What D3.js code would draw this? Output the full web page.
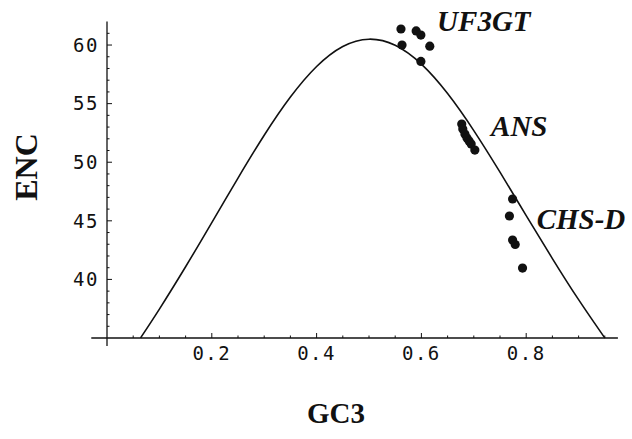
<!DOCTYPE html>
<html>
<head>
<meta charset="utf-8">
<script src="https://cdn.jsdelivr.net/npm/d3@7"></script>
<style>
  html, body { margin: 0; padding: 0; background: #fff; }
  svg { display: block; }
</style>
</head>
<body>
<svg id="chart" width="632" height="439"></svg>
<script>
// Expected ENC curve (GC3 vs ENC)
const curveGC3 = [0.064, 0.1, 0.15, 0.2, 0.25, 0.3, 0.35, 0.4, 0.45, 0.5, 0.55, 0.6, 0.65, 0.7, 0.75, 0.8, 0.85, 0.9, 0.95];
const curveENC = [35.01, 37.47, 41.08, 44.85, 48.65, 52.3, 55.56, 58.17, 59.88, 60.5, 59.98, 58.37, 55.86, 52.7, 49.15, 45.45, 41.78, 38.27, 35.0];

// Gene groups
const groups = ["UF3GT", "ANS", "CHS-D"];
const uf3gtGC3 = [0.561, 0.563, 0.590, 0.599, 0.616, 0.599];
const uf3gtENC = [61.37, 60.0, 61.2, 60.85, 59.9, 58.6];
const ansGC3 = [0.677, 0.679, 0.683, 0.687, 0.691, 0.695, 0.702];
const ansENC = [53.26, 52.83, 52.41, 52.06, 51.81, 51.55, 51.04];
const chsGC3 = [0.774, 0.768, 0.774, 0.779, 0.793];
const chsENC = [46.86, 45.41, 43.36, 42.98, 40.97];

const xTicks = [0.2, 0.4, 0.6, 0.8];
const yTicks = [40, 45, 50, 55, 60];
const xLabel = "GC3";
const yLabel = "ENC";

const svg = d3.select("#chart");
const x = d3.scaleLinear().domain([0, 1]).range([107, 631]);
const y = d3.scaleLinear().domain([35, 62]).range([338, 21.6]);

const ink = "#111";

// axes lines
svg.append("line").attr("x1", x(-0.03)).attr("x2", x(0.975))
  .attr("y1", y(35)).attr("y2", y(35)).attr("stroke", ink).attr("stroke-width", 1.3);
svg.append("line").attr("x1", x(0)).attr("x2", x(0))
  .attr("y1", y(62)).attr("y2", y(35) + 8).attr("stroke", ink).attr("stroke-width", 1.3);

// x ticks (major + minor), pointing inward (up)
const xMinor = d3.range(0.05, 0.96, 0.05);
svg.append("g").selectAll("line").data(xMinor).join("line")
  .attr("x1", d => x(d)).attr("x2", d => x(d))
  .attr("y1", y(35)).attr("y2", d => y(35) - (xTicks.some(t => Math.abs(t - d) < 1e-6) ? 5 : 2.5))
  .attr("stroke", ink).attr("stroke-width", 1);
svg.append("g").selectAll("text").data(xTicks).join("text")
  .attr("x", d => x(d)).attr("y", y(35) + 22)
  .attr("text-anchor", "middle")
  .attr("font-family", "DejaVu Sans Mono, monospace").attr("font-size", 19)
  .attr("letter-spacing", 1.5)
  .attr("fill", ink).text(d => d.toFixed(1));

// y ticks
const yMinor = d3.range(36, 62, 1);
svg.append("g").selectAll("line").data(yMinor).join("line")
  .attr("y1", d => y(d)).attr("y2", d => y(d))
  .attr("x1", x(0)).attr("x2", d => x(0) + (d % 5 === 0 ? 5 : 2.5))
  .attr("stroke", ink).attr("stroke-width", 1);
svg.append("g").selectAll("text").data(yTicks).join("text")
  .attr("x", x(0) - 8).attr("y", d => y(d)).attr("dy", "0.36em")
  .attr("text-anchor", "end")
  .attr("font-family", "DejaVu Sans Mono, monospace").attr("font-size", 19)
  .attr("letter-spacing", 1.5)
  .attr("fill", ink).text(d => d);

// curve
const curvePts = curveGC3.map((g, i) => [g, curveENC[i]]);
svg.append("path").datum(curvePts)
  .attr("d", d3.line().x(d => x(d[0])).y(d => y(d[1])).curve(d3.curveNatural))
  .attr("fill", "none").attr("stroke", ink).attr("stroke-width", 1.6);

// points
const pts = [
  ...uf3gtGC3.map((g, i) => [g, uf3gtENC[i]]),
  ...ansGC3.map((g, i) => [g, ansENC[i]]),
  ...chsGC3.map((g, i) => [g, chsENC[i]])
];
svg.append("g").selectAll("circle").data(pts).join("circle")
  .attr("cx", d => x(d[0])).attr("cy", d => y(d[1])).attr("r", 4.6)
  .attr("fill", ink);

// group labels
const labelPos = [[0.630, 61.2], [0.733, 52.24], [0.820, 44.3]];
svg.append("g").selectAll("text").data(groups).join("text")
  .attr("x", (d, i) => x(labelPos[i][0])).attr("y", (d, i) => y(labelPos[i][1]))
  .attr("font-family", "Liberation Serif, serif").attr("font-weight", "bold")
  .attr("font-style", "italic").attr("font-size", 29)
  .attr("fill", ink).text(d => d);

// axis titles
svg.append("text").attr("x", 336).attr("y", 423).attr("text-anchor", "middle")
  .attr("font-family", "Liberation Serif, serif").attr("font-weight", "bold")
  .attr("font-size", 29).attr("fill", ink).text(xLabel);
svg.append("text").attr("transform", "translate(37,167) rotate(-90)")
  .attr("text-anchor", "middle")
  .attr("font-family", "Liberation Serif, serif").attr("font-weight", "bold")
  .attr("font-size", 32).attr("fill", ink).text(yLabel);
</script>
</body>
</html>
